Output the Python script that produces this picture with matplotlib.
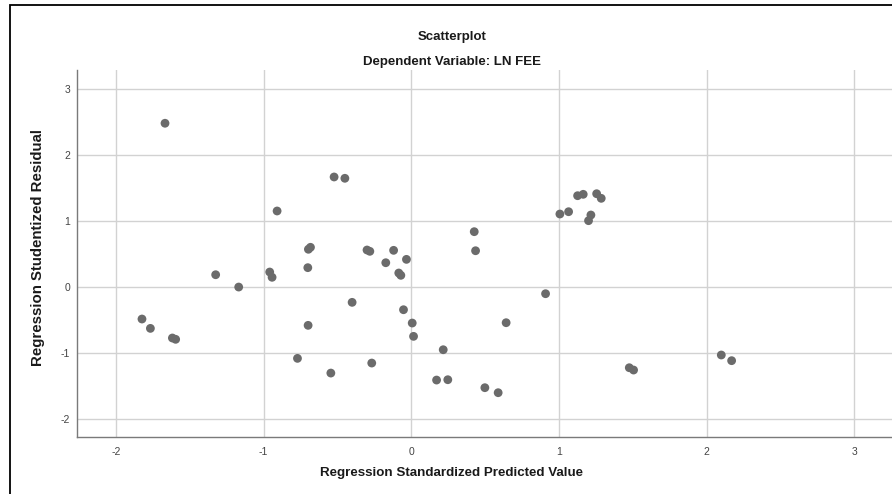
import matplotlib.pyplot as plt
from matplotlib.patches import Rectangle

# regression standardized predicted value / studentized residual
pred = [-1.668, -0.523, -0.450, -0.909, -0.697, -0.683, -0.300, -0.281, -0.120,
        -1.325, -1.169, -0.959, -0.943, -0.701, -0.173, -0.085, -0.071, -0.033,
        -0.401, -1.824, -1.767, -1.618, -1.596, -0.699, -0.771, -0.545, -0.268,
        0.426, 0.435, 1.006, 1.065, 1.126, 1.164, 1.255, 1.286, 1.216, 1.200,
        -0.053, 0.006, 0.015, 0.216, 0.171, 0.247, 0.498, 0.588, 0.642, 0.909,
        1.476, 1.505, 2.099, 2.169]
resid = [2.480, 1.665, 1.645, 1.149, 0.568, 0.598, 0.557, 0.537, 0.552,
         0.182, -0.005, 0.223, 0.143, 0.289, 0.364, 0.208, 0.173, 0.415,
         -0.237, -0.490, -0.632, -0.778, -0.798, -0.586, -1.087, -1.310, -1.158,
         0.835, 0.546, 1.103, 1.138, 1.381, 1.402, 1.411, 1.341, 1.088, 1.002,
         -0.349, -0.551, -0.753, -0.956, -1.416, -1.411, -1.532, -1.608, -0.546, -0.106,
         -1.229, -1.264, -1.036, -1.122]
xticks = [-2, -1, 0, 1, 2, 3]
yticks = [-2, -1, 0, 1, 2, 3]

plt.rcParams['font.family'] = ['Liberation Sans', 'DejaVu Sans']
plt.rcParams['axes.unicode_minus'] = False

W, H = 892, 494
fig = plt.figure(figsize=(W / 100, H / 100), dpi=100)
ax = fig.add_axes([77 / W, 1 - 437 / H, (W - 77) / W, (437 - 70) / H])

ax.scatter(pred, resid, s=40, color='#6b6b6b', edgecolors='none', zorder=3)

ax.set_xlim(-2.264, 3.255)
ax.set_ylim(-2.28, 3.288)
ax.set_xticks(xticks)
ax.set_yticks(yticks)
ax.grid(True, color='#d2d2d2', linewidth=1.0)
ax.set_axisbelow(True)
for s in ['top', 'right']:
    ax.spines[s].set_visible(False)
for s in ['left', 'bottom']:
    ax.spines[s].set_color('#7a7a7a')
    ax.spines[s].set_linewidth(1.0)
ax.tick_params(length=0, labelsize=7.5, labelcolor='#444444')
ax.tick_params(axis='x', pad=7)
ax.tick_params(axis='y', pad=5)

ax.set_xlabel('Regression Standardized Predicted Value', fontsize=9.6, fontweight='bold',
              color='#1a1a1a', va='center')
ax.xaxis.set_label_coords((452 - 77) / 815, (437 - 473) / 367)
ax.set_ylabel('Regression Studentized Residual', fontsize=10.8, fontweight='bold',
              color='#1a1a1a', va='center')
ax.yaxis.set_label_coords((38 - 77) / 815, (437 - 247) / 367)

fig.text(452 / W, 1 - 37 / H, 'Scatterplot', ha='center', va='center', fontsize=9.5,
         fontweight='bold', color='#1a1a1a')
fig.text(452 / W, 1 - 62 / H, 'Dependent Variable: LN FEE', ha='center', va='center',
         fontsize=9.5, fontweight='bold', color='#1a1a1a')

# outer frame, cut off at right and bottom like the screenshot
fig.patches.append(Rectangle((10 / W, -0.1), 1.2, 1 - 5.5 / H + 0.1, transform=fig.transFigure,
                             fill=False, edgecolor='black', linewidth=1.3))

fig.savefig('out.png', dpi=100)
